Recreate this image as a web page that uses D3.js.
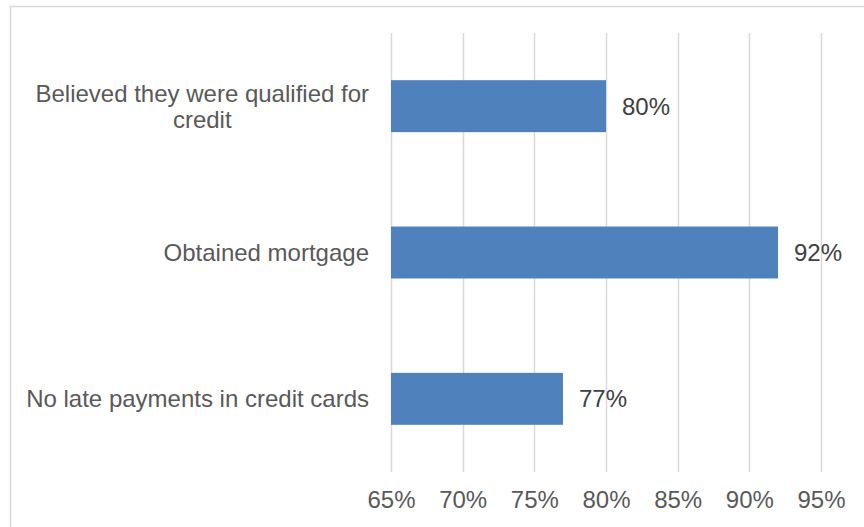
<!DOCTYPE html>
<html>
<head>
<meta charset="utf-8">
<script src="https://cdn.jsdelivr.net/npm/d3@7/dist/d3.min.js"></script>
<style>
  html, body { margin: 0; padding: 0; background: #ffffff; }
  svg { display: block; font-family: "Liberation Sans", Arial, sans-serif; }
</style>
</head>
<body>
<svg id="chart" width="864" height="527"></svg>
<script>
// Share of respondents for each credit outcome
const categories = [
  "Believed they were qualified for credit",
  "Obtained mortgage",
  "No late payments in credit cards"
];
const values = [0.80, 0.92, 0.77];
const tickValues = [0.65, 0.70, 0.75, 0.80, 0.85, 0.90, 0.95];

const W = 864, H = 527;
const plot = { left: 391, right: 821, top: 33, bottom: 472 };
const fontSize = 24;

const svg = d3.select("#chart");

// Outer chart frame (runs off the right and bottom edges)
svg.append("rect")
  .attr("x", 10.5).attr("y", 6.5)
  .attr("width", W + 20).attr("height", H + 20)
  .attr("fill", "#ffffff")
  .attr("stroke", "#d9d9d9")
  .attr("stroke-width", 1.5);

const x = d3.scaleLinear().domain([0.65, 0.95]).range([plot.left, plot.right]);
const gap = 0.645;
const y = d3.scaleBand()
  .domain(categories)
  .range([plot.top, plot.bottom])
  .paddingInner(gap)
  .paddingOuter(gap / 2);

// Vertical gridlines
svg.append("g")
  .selectAll("line")
  .data(tickValues)
  .join("line")
  .attr("x1", d => Math.round(x(d)) + 0.5)
  .attr("x2", d => Math.round(x(d)) + 0.5)
  .attr("y1", plot.top)
  .attr("y2", plot.bottom)
  .attr("stroke", "#d9d9d9")
  .attr("stroke-width", 1.5);

// Bottom axis tick labels
const xAxis = d3.axisBottom(x)
  .tickValues(tickValues)
  .tickFormat(d3.format(".0%"))
  .tickSize(0)
  .tickPadding(0);
const gx = svg.append("g")
  .attr("transform", `translate(0,${plot.bottom})`)
  .call(xAxis);
gx.select(".domain").remove();
gx.selectAll("text")
  .attr("y", 36)
  .attr("dy", null)
  .attr("fill", "#595959")
  .attr("font-size", fontSize)
  .attr("font-family", "'Liberation Sans', Arial, sans-serif");

// Bars
svg.append("g")
  .selectAll("rect")
  .data(categories)
  .join("rect")
  .attr("x", x(0.65))
  .attr("y", d => y(d))
  .attr("width", (d, i) => x(values[i]) - x(0.65))
  .attr("height", y.bandwidth())
  .attr("fill", "#4f81bd");

// Value labels
svg.append("g")
  .selectAll("text")
  .data(categories)
  .join("text")
  .attr("x", (d, i) => x(values[i]) + 16)
  .attr("y", d => y(d) + y.bandwidth() / 2 + fontSize * 0.35)
  .attr("fill", "#404040")
  .attr("font-size", fontSize)
  .text((d, i) => d3.format(".0%")(values[i]));

// Category labels, wrapped when wider than the label column
const labelRight = plot.left - 22;
const maxLabelWidth = 360;
const lineHeight = 26;
const labelG = svg.append("g");
categories.forEach(cat => {
  const cy = y(cat) + y.bandwidth() / 2;
  const t = labelG.append("text")
    .attr("fill", "#595959")
    .attr("font-size", fontSize);
  const words = cat.split(" ");
  const lines = [];
  let cur = [];
  const probe = t.append("tspan");
  words.forEach(w => {
    const trial = cur.concat(w).join(" ");
    probe.text(trial);
    if (probe.node().getComputedTextLength() > maxLabelWidth && cur.length) {
      lines.push(cur.join(" "));
      cur = [w];
    } else {
      cur.push(w);
    }
  });
  lines.push(cur.join(" "));
  probe.remove();

  if (lines.length === 1) {
    t.attr("text-anchor", "end")
      .attr("x", labelRight)
      .attr("y", cy + fontSize * 0.35)
      .text(lines[0]);
  } else {
    const spans = lines.map((ln, i) => t.append("tspan").text(ln));
    const widest = d3.max(spans, s => s.node().getComputedTextLength());
    const cx = labelRight - widest / 2;
    const firstBaseline = cy + fontSize * 0.35 - (lines.length - 1) * lineHeight / 2;
    t.attr("text-anchor", "middle");
    spans.forEach((s, i) => {
      s.attr("x", cx).attr("y", firstBaseline + i * lineHeight);
    });
  }
});
</script>
</body>
</html>
